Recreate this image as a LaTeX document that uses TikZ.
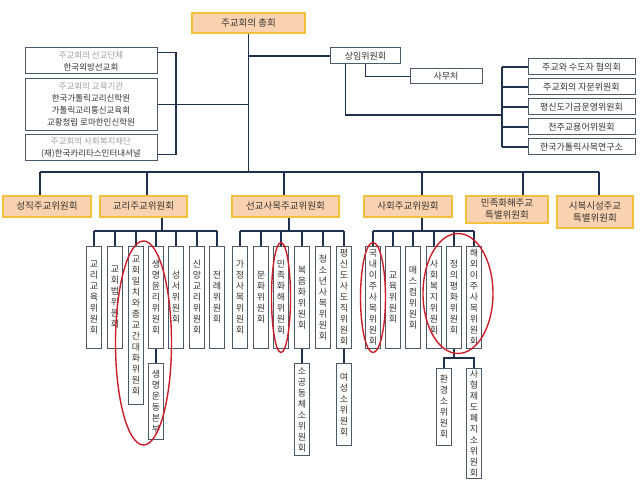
\documentclass[tikz,border=0pt]{standalone}
\usepackage{fontspec}
\setmainfont{Noto Sans CJK KR}
\usepackage{tikz}
\usetikzlibrary{positioning,calc}
\definecolor{HeadFill}{RGB}{250,210,175}
\definecolor{HeadLine}{RGB}{242,192,60}
\definecolor{BoxLine}{RGB}{75,90,105}
\definecolor{LinkNavy}{RGB}{30,50,80}
\definecolor{NoteGray}{RGB}{160,160,160}
\definecolor{RingRed}{RGB}{205,30,40}
\makeatletter
\newcommand\vst[1]{\expandafter\vst@step#1\@nil}
\def\vst@step#1#2\@nil{#1\ifx\relax#2\relax\expandafter\@gobble\else\expandafter\@firstofone\fi{\\\vst@step#2\@nil}}
\makeatother
\tikzset{
  head/.style={draw=HeadLine,fill=HeadFill,line width=1.6pt,inner sep=1pt,align=center,
    text=black!80,font=\fontsize{9.5}{12}\selectfont},
  unit/.style={draw=BoxLine,fill=white,line width=1pt,inner sep=1pt,align=center,
    text=black!80,font=\fontsize{9}{12}\selectfont},
  leaf/.style={draw=BoxLine,fill=white,line width=1pt,inner sep=0pt,minimum width=15pt,
    anchor=north,align=center,text=black!80,font=\fontsize{9}{11}\selectfont},
  link/.style={draw=LinkNavy,line width=1.3pt},
  ring/.style={draw=RingRed,line width=1.4pt},
}

\begin{document}
\begin{tikzpicture}[x=1pt,y=-1pt]
\useasboundingbox (0,0) rectangle (640,484);
\node[head,minimum width=113pt,minimum height=20pt] (chonghoe) at (248.5,23) {주교회의 총회};
\node[unit,font=\fontsize{8.5}{12}\selectfont,minimum width=132pt,minimum height=26pt] (l1) at (91,61)
  {\textcolor{NoteGray}{주교회의 선교단체}\\한국외방선교회};
\node[unit,font=\fontsize{8.5}{12}\selectfont,minimum width=132pt,minimum height=52pt] (l2) at (91,104.5)
  {\textcolor{NoteGray}{주교회의 교육기관}\\한국가톨릭교리신학원\\가톨릭교리통신교육회\\교황청립 로마한인신학원};
\node[unit,font=\fontsize{8.5}{12}\selectfont,minimum width=132pt,minimum height=26pt] (l3) at (91,148)
  {\textcolor{NoteGray}{주교회의 사회복지재단}\\(재)한국카리타스인터내셔널};
\node[unit,minimum width=70pt,minimum height=16pt] (sangim) at (365.5,56) {상임위원회};
\node[unit,minimum width=72pt,minimum height=15pt] (samucheo) at (446,76.5) {사무처};
\foreach \i/\txt in {1/주교와 수도자 협의회,2/주교회의 자문위원회,3/평신도기금운영위원회,
    4/천주교용어위원회,5/한국가톨릭사목연구소}
  \node[unit,minimum width=107pt,minimum height=16pt] (r\i) at (581.5,{47+20*\i}) {\txt};
\coordinate (lb) at (176,104);
\coordinate (rb) at (502,115);
\draw[link] (chonghoe.south |- sangim.west) -- (sangim.west);
\draw[link] (sangim.south) |- (samucheo.west);
\draw[link] ($(sangim.south)+(-20,0)$) |- (rb);
\draw[link] (rb |- r1.west) -- (rb |- r5.west);
\foreach \i in {1,...,5}
  \draw[link] (r\i.west) -- (rb |- r\i.west);
\draw[link] ($(l1.north east)+(0,5)$) -| (lb) |- ($(l3.south east)+(0,-7)$);
\draw[link] (l2.east) -- (chonghoe.south |- l2.east);
% main committees
\node[head,anchor=north,minimum width=88pt,minimum height=21pt] (c1) at (47,195) {성직주교위원회};
\node[head,anchor=north,minimum width=87pt,minimum height=21pt] (c2) at (143.5,195) {교리주교위원회};
\node[head,anchor=north,minimum width=107pt,minimum height=21pt] (c3) at (285.5,195) {선교사목주교위원회};
\node[head,anchor=north,minimum width=88pt,minimum height=21pt] (c4) at (408,195) {사회주교위원회};
\node[head,anchor=north,minimum width=82pt,minimum height=27pt] (c5) at (507,195) {민족화해주교\\특별위원회};
\node[head,anchor=north,minimum width=76pt,minimum height=32pt] (c6) at (595,195) {시복시성주교\\특별위원회};
\foreach \n/\x in {1/40,2/147,3/284,4/422,5/523,6/599}
  \coordinate (m\n) at (\x,172);
\draw[link] (chonghoe.south) -- (chonghoe.south |- m1);
\draw[link] (m1) -- (m6);
\foreach \n in {1,...,6}
  \draw[link] (m\n) -- (m\n |- c\n.north);
% doctrine
\foreach \i/\x/\h/\txt in {1/94/102/교리교육위원회,2/115/102/교회법위원회,
    3/136/158/교회일치와종교간대화위원회,4/156/102/생명윤리위원회,5/176/102/성서위원회,
    6/197/102/신앙교리위원회,7/217/102/전례위원회}
  \node[leaf,minimum height=\h pt] (g\i) at (\x,246) {\vst{\txt}};
\node[leaf,minimum height=76pt] (life) at (156,363) {\vst{생명운동본부}};
\coordinate (sb2) at (162,231);
\draw[link] (sb2 |- c2.south) -- (sb2);
\draw[link] (g1.north |- sb2) -- (g7.north |- sb2);
\foreach \i in {1,...,7}
  \draw[link] (g\i.north) -- (g\i.north |- sb2);
\draw[link] (g4.south) -- (life.north);
% mission
\foreach \i/\x/\txt in {1/240/가정사목위원회,2/261/문화위원회,3/281/민족화해위원회,
    4/302/복음화위원회,5/323/청소년사목위원회,6/344/평신도사도직위원회}
  \node[leaf,minimum height=102pt] (s\i) at (\x,246) {\vst{\txt}};
\node[leaf,minimum height=92pt] (sogong) at (302,363) {\vst{소공동체소위원회}};
\node[leaf,minimum height=82pt] (yeoseong) at (344,363) {\vst{여성소위원회}};
\coordinate (sb3) at (289,231);
\draw[link] (sb3 |- c3.south) -- (sb3);
\draw[link] (s1.north |- sb3) -- (s6.north |- sb3);
\foreach \i in {1,...,6}
  \draw[link] (s\i.north) -- (s\i.north |- sb3);
\draw[link] (s4.south) -- (sogong.north);
\draw[link] (s6.south) -- (yeoseong.north);
% social
\foreach \i/\x/\txt in {1/373/국내이주사목위원회,2/393/교육위원회,3/413/매스컴위원회,
    4/434/사회복지위원회,5/454/정의평화위원회,6/474/해외이주사목위원회}
  \node[leaf,minimum height=102pt] (p\i) at (\x,246) {\vst{\txt}};
\node[leaf,minimum height=77pt] (env) at (444,368) {\vst{환경소위원회}};
\node[leaf,minimum height=110pt] (death) at (474,368) {\vst{사형제도폐지소위원회}};
\coordinate (sb4) at (422,231);
\coordinate (jb) at (454,358);
\draw[link] (sb4 |- c4.south) -- (sb4);
\draw[link] (p1.north |- sb4) -- (p6.north |- sb4);
\foreach \i in {1,...,6}
  \draw[link] (p\i.north) -- (p\i.north |- sb4);
\draw[link] (p5.south) -- (jb);
\draw[link] (env.north) |- (jb) -| (death.north);
% red rings
\draw[ring] (143.5,343) ellipse [x radius=28pt,y radius=102pt];
\draw[ring] (s3) ellipse [x radius=9.5pt,y radius=55pt];
\draw[ring] (p1) ellipse [x radius=12.5pt,y radius=55pt];
\draw[ring] ($(p5)+(4,-4)$) ellipse [x radius=35pt,y radius=60pt];
\end{tikzpicture}
\end{document}
